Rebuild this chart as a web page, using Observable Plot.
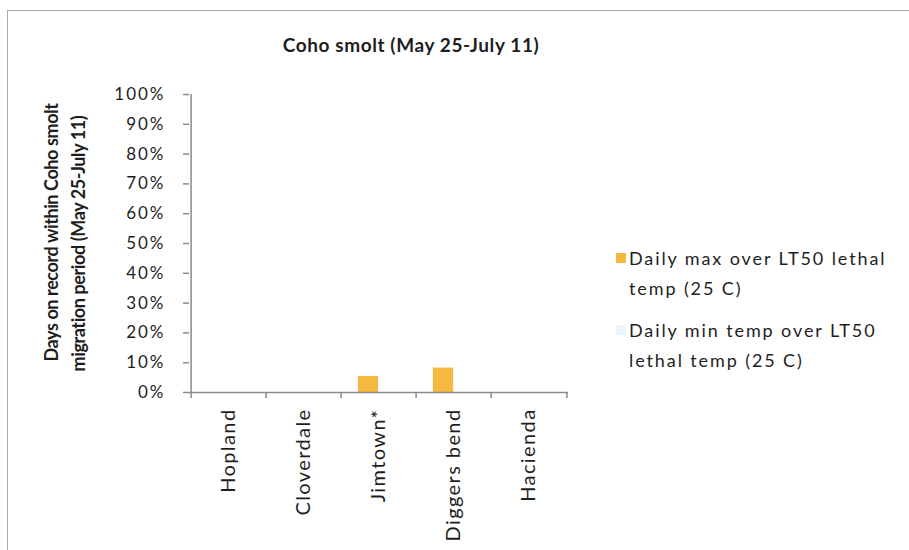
<!DOCTYPE html>
<html>
<head>
<meta charset="utf-8">
<script src="https://cdn.jsdelivr.net/npm/d3@7"></script>
<script src="https://cdn.jsdelivr.net/npm/@observablehq/plot@0.6"></script>
<style>
  html, body { margin: 0; padding: 0; background: #fff; }
  #wrap { position: relative; width: 909px; height: 550px; overflow: hidden; font-family: Lato, "Open Sans", sans-serif; color: #1e1e1e; }
  #border { position: absolute; left: 7px; top: 10px; width: 1000px; height: 700px; border: 1.5px solid #a8a8a8; box-sizing: border-box; }
  #title { position: absolute; left: 0; width: 822px; top: 33px; text-align: center; font-size: 19px; font-weight: 700; letter-spacing: 0.6px; }
  .leg { position: absolute; left: 629px; font-size: 18px; line-height: 30px; letter-spacing: 1.9px; white-space: nowrap; }
  .sw { position: absolute; width: 10px; height: 10px; }
  #chart { position: absolute; left: 0; top: 0; }
</style>
</head>
<body>
<div id="wrap">
  <div id="border"></div>
  <div id="chart"></div>
  <div id="title"></div>
  <div id="legend"></div>
</div>
<script>
// Sites along the river, in order
const sites = ["Hopland", "Cloverdale", "Jimtown*", "Diggers bend", "Hacienda"];
// Share of days within the May 25 – July 11 window over the LT50 lethal temperature (25 C)
const dailyMax = [0, 0, 0.054, 0.082, 0];
const dailyMin = [0, 0, 0, 0, 0];
const seriesNames = ["Daily max over LT50 lethal temp (25 C)", "Daily min temp over LT50 lethal temp (25 C)"];
const seriesColors = ["#f6b940", "#eef4fb"];
const yTicks = [0, 0.1, 0.2, 0.3, 0.4, 0.5, 0.6, 0.7, 0.8, 0.9, 1];
const titleText = "Coho smolt (May 25-July 11)";
const yLabelLines = ["Days on record within Coho smolt", "migration period (May 25-July 11)"];
const legendLines = [["Daily max over LT50 lethal", "temp (25 C)"], ["Daily min temp over LT50", "lethal temp (25 C)"]];

const rows = [
  ...sites.map((s, i) => ({site: s, series: seriesNames[0], value: dailyMax[i]})),
  ...sites.map((s, i) => ({site: s, series: seriesNames[1], value: dailyMin[i]}))
];

const W = 909, H = 550;
const mL = 189, mR = 341, mT = 94, mB = 158;
const band = (W - mL - mR) / sites.length;
const barW = 21;
const outer = (band - 2 * barW) / 2;
const axisColor = "#8a8a8a";
const ink = "#1e1e1e";

const chart = Plot.plot({
  width: W,
  height: H,
  marginLeft: mL,
  marginRight: mR,
  marginTop: mT,
  marginBottom: mB,
  style: {fontFamily: "Lato, 'Open Sans', sans-serif", fontSize: "17px", color: ink, background: "transparent"},
  x: {domain: sites, padding: 0},
  y: {domain: [0, 1]},
  color: {domain: seriesNames, range: seriesColors},
  marks: [
    // clustered bars: first series on the left half of each group, second on the right
    Plot.barY(rows.filter(d => d.series === seriesNames[0]), {
      x: "site", y: "value", fill: "series",
      insetLeft: outer, insetRight: outer + barW
    }),
    Plot.barY(rows.filter(d => d.series === seriesNames[1]), {
      x: "site", y: "value", fill: "series",
      insetLeft: outer + barW, insetRight: outer
    }),
    // value axis line
    Plot.ruleX([sites[0]], {x: d => d, dx: -band / 2, y1: 0, y2: 1, stroke: axisColor, strokeWidth: 1.5}),
    // category axis line
    Plot.ruleY([0], {stroke: axisColor, strokeWidth: 1.5}),
    // category boundary ticks
    Plot.ruleX(sites, {x: d => d, dx: -band / 2, y1: 0, y2: -0.02, stroke: axisColor, strokeWidth: 1.5}),
    Plot.ruleX([sites[sites.length - 1]], {x: d => d, dx: band / 2, y1: 0, y2: -0.02, stroke: axisColor, strokeWidth: 1.5}),
    Plot.axisY({
      ticks: yTicks, tickSize: 6, tickPadding: 18, tickFormat: d3.format(".0%"),
      stroke: axisColor, strokeWidth: 1.5, label: null, fill: ink, fontSize: 17
    }),
    Plot.axisX({
      tickSize: 0, tickPadding: 16, tickRotate: -90, label: null, fill: ink, fontSize: 20
    }),
    // value axis title, two lines
    Plot.text(yLabelLines, {
      frameAnchor: "middle",
      text: d => d,
      rotate: -90,
      fontWeight: "bold",
      fontSize: 18,
      fill: ink
    })
  ]
});

// position the two rotated title lines left of the value axis
const yTitlePos = [[57, 232], [84, 243]];
chart.querySelectorAll("g[aria-label='text'] text").forEach((t, i) => {
  const [cx, cy] = yTitlePos[i];
  t.setAttribute("transform", `translate(${cx},${cy}) rotate(-90)`);
  t.removeAttribute("x");
  t.removeAttribute("y");
});
chart.querySelectorAll("g[aria-label='text']").forEach(g => g.style.letterSpacing = "-0.4px");
// letter spacing for the axis labels
chart.querySelectorAll("g[aria-label='y-axis tick label']").forEach(g => g.style.letterSpacing = "2px");
chart.querySelectorAll("g[aria-label='x-axis tick label']").forEach(g => g.style.letterSpacing = "1.4px");

document.getElementById("chart").appendChild(chart);
document.getElementById("title").textContent = titleText;

// legend
const legend = document.getElementById("legend");
const legTops = [243, 315];
legendLines.forEach((lines, i) => {
  const sw = document.createElement("div");
  sw.className = "sw";
  sw.style.left = "616px";
  sw.style.top = (legTops[i] + 10) + "px";
  sw.style.background = seriesColors[i];
  legend.appendChild(sw);
  const t = document.createElement("div");
  t.className = "leg";
  t.style.top = legTops[i] + "px";
  t.innerHTML = lines.join("<br>");
  legend.appendChild(t);
});
</script>
</body>
</html>
